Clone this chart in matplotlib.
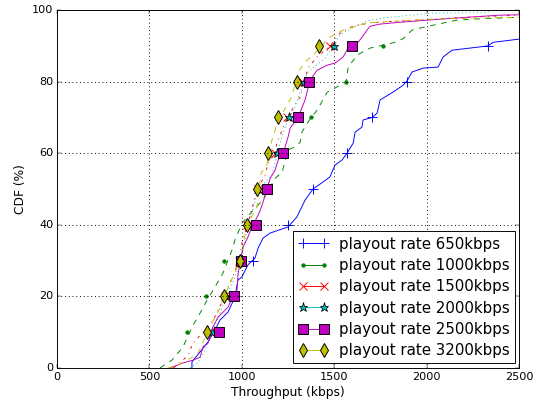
import matplotlib
matplotlib.use("Agg")
import matplotlib.pyplot as plt
from matplotlib.lines import Line2D

plt.style.use('classic')

labels = ["playout rate 650kbps", "playout rate 1000kbps", "playout rate 1500kbps",
          "playout rate 2000kbps", "playout rate 2500kbps", "playout rate 3200kbps"]

# CDF curves (throughput kbps, CDF %)
x650 = [730, 730, 774, 817, 855, 882, 925, 963, 979, 1000, 1033, 1071, 1088, 1115, 1153, 1250,
        1298, 1342, 1385, 1440, 1477, 1504, 1542, 1569, 1602, 1613, 1650, 1656, 1705, 1732, 1748,
        1818, 1872, 1894, 1921, 1981, 2062, 2089, 2137, 2235, 2332, 2359, 2500]
y650 = [0, 1.7, 4.5, 7.3, 10.6, 13.4, 15.6, 19.8, 24.6, 25.4, 28.8, 30.7, 33.5, 36.3, 37.7, 39.4,
        42.2, 46.9, 50, 52, 53.4, 56.7, 58.1, 60, 62.8, 65.9, 67.3, 69.3, 70, 71.2, 74.9,
        77.1, 79, 80.2, 82.7, 83.8, 84.1, 86.9, 88.8, 89.4, 90, 91, 91.9]

x1000 = [557, 622, 682, 736, 760, 812, 845, 898, 947, 963, 1001, 1060, 1115, 1180, 1218, 1250, 1277,
         1315, 1326, 1374, 1407, 1461, 1531, 1564, 1575, 1623, 1694, 1764, 1829, 1872, 1921, 1981,
         2062, 2164, 2300, 2500]
y1000 = [0, 2.2, 5.9, 12, 14, 19, 21.8, 26.5, 33, 35.8, 40.5, 44, 47, 53, 54.7, 61, 61.5,
         63, 66, 70, 72, 77, 79, 80, 84, 87.4, 89.4, 90.2, 91, 92, 94.4, 95.2,
         96.1, 97.2, 97.6, 98]

x1500 = [630, 682, 709, 736, 790, 838, 880, 936, 985, 1001, 1030, 1085, 1126, 1142, 1180, 1190, 1245,
         1315, 1326, 1358, 1407, 1477, 1530, 1600, 1700, 1950, 2130, 2500]
y1500 = [0, 2.2, 3.6, 7, 10, 12.6, 17, 23.7, 30, 35, 40, 50, 53.9, 57.3, 60, 62.8, 70,
         75.7, 77.7, 83.8, 86.9, 90, 93.5, 95.5, 96.5, 97.2, 97.8, 98.6]

x2000 = [720, 763, 800, 840, 880, 915, 960, 993, 1035, 1090, 1163, 1180, 1218, 1256, 1288, 1335,
         1353, 1450, 1499, 1530, 1596, 1677, 1764, 2035, 2330, 2340]
y2000 = [0, 1.4, 5, 10, 15, 20, 25, 30, 40, 50, 53.9, 57.5, 65, 70, 73, 80,
         82.4, 86.6, 90, 93, 95, 97, 97.8, 99.2, 99.3, 100]

x2500 = [611, 682, 736, 774, 790, 817, 844, 871, 898, 925, 953, 974, 979, 990, 1007, 1033, 1055,
         1088, 1099, 1115, 1153, 1180, 1196, 1234, 1250, 1261, 1304, 1342, 1369, 1407, 1461, 1504,
         1548, 1575, 1629, 1667, 1677, 1694, 1748, 1856, 2002, 2219, 2397, 2500]
y2500 = [0, 1.4, 2.2, 3, 5.9, 7, 11.5, 14.2, 15.6, 17, 20, 21.8, 26, 29.6, 33.8, 36.6, 39.4,
         42.7, 44, 46.4, 53, 55.3, 58, 61.7, 64.5, 67, 70, 74.9, 80.4, 83.2, 84.6, 85.2,
         86.9, 89.4, 91, 93.6, 94.4, 95.5, 96.1, 96.6, 97.2, 98, 98.6, 98.7]

x3200 = [600, 650, 693, 757, 784, 812, 838, 871, 904, 920, 990, 1028, 1082, 1104, 1136, 1163, 1196,
         1272, 1304, 1342, 1385, 1477, 1548, 1677, 1856, 2035, 2500]
y3200 = [0, 0.6, 2, 3.6, 6.4, 10, 12.6, 15.6, 20, 21.8, 30, 40, 45, 54.4, 57, 63.7, 69,
         76, 82.7, 85.5, 87.4, 92.5, 94.4, 96.4, 97, 97.5, 98]

# marker positions at CDF = 10, 20, ..., 90 %
mk_levels = [10, 20, 30, 40, 50, 60, 70, 80, 90]
mk650 = [850, 963, 1060, 1250, 1385, 1569, 1705, 1894, 2332]
mk1000 = [703, 806, 906, 1015, 1135, 1228, 1374, 1564, 1764]
mk1500 = [830, 910, 985, 1030, 1085, 1180, 1245, 1330, 1477]
mk2000 = [840, 915, 993, 1035, 1090, 1190, 1256, 1335, 1499]
mk2500 = [877, 955, 996, 1077, 1136, 1225, 1304, 1364, 1596]
mk3200 = [812, 904, 990, 1028, 1082, 1142, 1196, 1299, 1418]

xticks = [0, 500, 1000, 1500, 2000, 2500]
yticks = [0, 20, 40, 60, 80, 100]

fig = plt.figure(figsize=(8, 6), dpi=67.5)
fig.patch.set_facecolor('white')
ax = fig.add_axes([0.1056, 0.0914, 0.8556, 0.8836])

series = [
    (x650, y650, mk650, 'b', '-', dict(marker='+', ms=10, mew=1.0, mec='b', mfc='b')),
    (x1000, y1000, mk1000, 'g', '--', dict(marker='o', ms=4, mew=0.5, mec='g', mfc='g')),
    (x1500, y1500, mk1500, 'r', '-.', dict(marker='x', ms=9, mew=1.0, mec='r', mfc='r')),
    (x2000, y2000, mk2000, 'c', ':', dict(marker='*', ms=10, mew=0.8, mec='k', mfc='c')),
    (x2500, y2500, mk2500, 'm', '-', dict(marker='s', ms=10, mew=1.0, mec='k', mfc='m')),
    (x3200, y3200, mk3200, 'y', '--', dict(marker='d', ms=11, mew=1.0, mec='k', mfc='y')),
]

handles = []
for (xs, ys, mk, col, ls, mstyle), lab in zip(series, labels):
    ax.plot(xs, ys, color=col, linestyle=ls, linewidth=1.0)
    ax.plot(mk, mk_levels, linestyle='none', **mstyle)
    handles.append(Line2D([], [], color=col, linestyle='-', linewidth=1.0, **mstyle))

ax.set_xlim(0, 2500)
ax.set_ylim(0, 100)
ax.set_xticks(xticks)
ax.set_yticks(yticks)
ax.tick_params(labelsize=12)
ax.grid(True, color='k', linestyle=':', linewidth=1.0)
ax.set_xlabel('Throughput (kbps)', fontsize=13)
ax.set_ylabel('CDF (%)', fontsize=13)

leg = ax.legend(handles, labels, loc='lower right', numpoints=2, fontsize=16,
                labelspacing=0.42, handlelength=2.0, borderpad=0.35, handletextpad=0.7,
                borderaxespad=0.3, fancybox=False)
leg.get_frame().set_linewidth(1.0)

fig.savefig('out.png', dpi=67.5, facecolor='white')
